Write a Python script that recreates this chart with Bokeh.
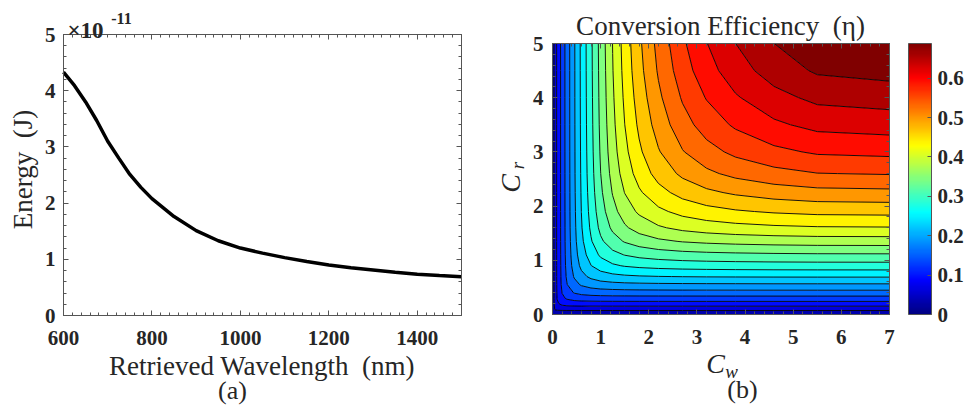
import numpy as np
from bokeh.plotting import figure
from bokeh.layouts import row
from bokeh.models import (LinearAxis, Range1d, FixedTicker, SingleIntervalTicker,
                          Label, ColorBar, LinearColorMapper, CustomJSTickFormatter)
from bokeh.embed import file_html
from bokeh.resources import INLINE

# ---------------- data: panel (a) ----------------
wavelength_nm = [600, 625, 650, 675, 700, 725, 750, 775, 800, 850, 900, 950, 1000,
                 1050, 1100, 1150, 1200, 1250, 1300, 1350, 1400, 1450, 1500]
energy_e11 = [4.33, 4.09, 3.80, 3.47, 3.10, 2.80, 2.51, 2.28, 2.08, 1.76, 1.51, 1.33, 1.20,
              1.11, 1.03, 0.96, 0.90, 0.85, 0.81, 0.77, 0.735, 0.71, 0.69]
a_xlim = (600, 1500)
a_ylim = (0, 5)

# ---------------- data: panel (b) ----------------
cw = [0, 0.05, 0.1, 0.2, 0.3, 0.45, 0.6, 0.8, 1.0, 1.25, 1.5, 1.8, 2.2, 2.7, 3.2, 3.8, 4.6, 5.5, 7]
cr = [0, 0.05, 0.1, 0.2, 0.3, 0.4, 0.55, 0.7, 0.9, 1.1, 1.35, 1.6, 1.9, 2.25, 2.6, 3.0, 3.5, 4.0, 4.5, 5]
eta_r00 = [0] * 19
eta_r01 = [0, 0.0206, 0.0210, 0.0211, 0.0212, 0.0212, 0.0212, 0.0212, 0.0212, 0.0212, 0.0212, 0.0212, 0.0212, 0.0212, 0.0212, 0.0212, 0.0212, 0.0212, 0.0212]
eta_r02 = [0, 0.0350, 0.0395, 0.0414, 0.0419, 0.0421, 0.0422, 0.0422, 0.0423, 0.0423, 0.0423, 0.0423, 0.0423, 0.0423, 0.0423, 0.0423, 0.0423, 0.0423, 0.0423]
eta_r03 = [0, 0.0436, 0.0585, 0.0711, 0.0757, 0.0781, 0.0791, 0.0796, 0.0798, 0.0800, 0.0801, 0.0801, 0.0802, 0.0802, 0.0802, 0.0802, 0.0802, 0.0802, 0.0802]
eta_r04 = [0, 0.0452, 0.0645, 0.0867, 0.0980, 0.1055, 0.1087, 0.1106, 0.1115, 0.1120, 0.1123, 0.1125, 0.1126, 0.1127, 0.1128, 0.1128, 0.1129, 0.1129, 0.1129]
eta_r05 = [0, 0.0457, 0.0667, 0.0947, 0.1124, 0.1264, 0.1333, 0.1378, 0.1401, 0.1414, 0.1421, 0.1426, 0.1429, 0.1432, 0.1433, 0.1434, 0.1435, 0.1435, 0.1436]
eta_r06 = [0, 0.0460, 0.0678, 0.0999, 0.1237, 0.1463, 0.1596, 0.1692, 0.1745, 0.1779, 0.1797, 0.1809, 0.1818, 0.1824, 0.1828, 0.1830, 0.1833, 0.1834, 0.1835]
eta_r07 = [0, 0.0461, 0.0684, 0.1023, 0.1297, 0.1588, 0.1785, 0.1942, 0.2039, 0.2102, 0.2138, 0.2163, 0.2182, 0.2195, 0.2203, 0.2208, 0.2212, 0.2214, 0.2216]
eta_r08 = [0, 0.0461, 0.0686, 0.1038, 0.1338, 0.1684, 0.1946, 0.2181, 0.2341, 0.2456, 0.2524, 0.2572, 0.2610, 0.2639, 0.2655, 0.2667, 0.2676, 0.2682, 0.2684]
eta_r09 = [0, 0.0461, 0.0688, 0.1045, 0.1357, 0.1734, 0.2040, 0.2333, 0.2551, 0.2719, 0.2823, 0.2900, 0.2962, 0.3009, 0.3037, 0.3057, 0.3074, 0.3084, 0.3087]
eta_r10 = [0, 0.0461, 0.0689, 0.1050, 0.1372, 0.1773, 0.2117, 0.2472, 0.2757, 0.2995, 0.3152, 0.3274, 0.3378, 0.3458, 0.3505, 0.3541, 0.3571, 0.3591, 0.3597]
eta_r11 = [0, 0.0461, 0.0689, 0.1053, 0.1379, 0.1795, 0.2162, 0.2557, 0.2893, 0.3188, 0.3395, 0.3564, 0.3712, 0.3830, 0.3903, 0.3959, 0.4006, 0.4036, 0.4046]
eta_r12 = [0, 0.0461, 0.0689, 0.1055, 0.1384, 0.1809, 0.2191, 0.2616, 0.2990, 0.3337, 0.3589, 0.3804, 0.3998, 0.4161, 0.4264, 0.4344, 0.4413, 0.4459, 0.4473]
eta_r13 = [0, 0.0461, 0.0689, 0.1056, 0.1387, 0.1819, 0.2213, 0.2661, 0.3069, 0.3460, 0.3759, 0.4022, 0.4272, 0.4486, 0.4627, 0.4739, 0.4838, 0.4903, 0.4925]
eta_r14 = [0, 0.0461, 0.0689, 0.1057, 0.1389, 0.1826, 0.2228, 0.2692, 0.3124, 0.3551, 0.3887, 0.4191, 0.4492, 0.4757, 0.4938, 0.5086, 0.5216, 0.5308, 0.5337]
eta_r15 = [0, 0.0461, 0.0689, 0.1057, 0.1391, 0.1830, 0.2238, 0.2713, 0.3163, 0.3618, 0.3982, 0.4323, 0.4666, 0.4985, 0.5203, 0.5388, 0.5552, 0.5671, 0.5709]
eta_r16 = [0, 0.0461, 0.0689, 0.1057, 0.1392, 0.1834, 0.2245, 0.2730, 0.3195, 0.3672, 0.4063, 0.4438, 0.4824, 0.5192, 0.5453, 0.5676, 0.5884, 0.6032, 0.6082]
eta_r17 = [0, 0.0462, 0.0690, 0.1057, 0.1393, 0.1836, 0.2251, 0.2741, 0.3216, 0.3709, 0.4121, 0.4520, 0.4941, 0.5348, 0.5647, 0.5907, 0.6152, 0.6331, 0.6391]
eta_r18 = [0, 0.0462, 0.0690, 0.1057, 0.1393, 0.1837, 0.2254, 0.2750, 0.3231, 0.3740, 0.4168, 0.4589, 0.5038, 0.5485, 0.5817, 0.6114, 0.6397, 0.6609, 0.6680]
eta_r19 = [0, 0.0462, 0.0690, 0.1058, 0.1394, 0.1839, 0.2257, 0.2756, 0.3244, 0.3759, 0.4197, 0.4631, 0.5101, 0.5574, 0.5931, 0.6252, 0.6565, 0.6800, 0.6878]
eta_rows = [eta_r00, eta_r01, eta_r02, eta_r03, eta_r04, eta_r05, eta_r06, eta_r07, eta_r08, eta_r09,
            eta_r10, eta_r11, eta_r12, eta_r13, eta_r14, eta_r15, eta_r16, eta_r17, eta_r18, eta_r19]
contour_levels = [0.0313, 0.0625, 0.0938, 0.1251, 0.1564, 0.1876, 0.2189, 0.2502, 0.2814, 0.3127,
                  0.3440, 0.3752, 0.4065, 0.4378, 0.4691, 0.5003, 0.5316, 0.5629, 0.5941, 0.6254, 0.6567]
eta_max = 0.688
b_xlim = (0, 7)
b_ylim = (0, 5)
cb_ticks = [0, 0.1, 0.2, 0.3, 0.4, 0.5, 0.6]

# ---------------- style ----------------
FONT = "Liberation Serif"
AXC = "#555555"
TXT = "#262626"
EMPTY = CustomJSTickFormatter(code="return ''")


def jet(x):
    r = min(max(1.5 - abs(4 * x - 3), 0), 1)
    g = min(max(1.5 - abs(4 * x - 2), 0), 1)
    b = min(max(1.5 - abs(4 * x - 1), 0), 1)
    return "#%02x%02x%02x" % (round(r * 255), round(g * 255), round(b * 255))


def style_axis(ax, show_labels=True, standoff=8):
    ax.axis_line_color = AXC
    ax.axis_line_width = 1
    ax.major_tick_line_color = AXC
    ax.minor_tick_line_color = AXC
    ax.major_tick_in = 5
    ax.major_tick_out = 0
    ax.minor_tick_in = 3
    ax.minor_tick_out = 0
    ax.major_label_text_font = FONT
    ax.major_label_text_font_style = "bold"
    ax.major_label_text_color = TXT
    ax.major_label_text_font_size = "21px"
    ax.major_label_standoff = standoff
    if not show_labels:
        ax.formatter = EMPTY


def txt(x, y, s, size="27px", style="normal", angle=0, align="center", baseline="middle"):
    return Label(x=x, y=y, text=s, text_font=FONT, text_font_style=style, text_font_size=size,
                 text_color=TXT, text_align=align, text_baseline=baseline, angle=angle)


def boxed(p, xlim, ylim, xtick, ytick, xstand, ystand):
    p.xaxis.ticker = xtick
    p.yaxis.ticker = ytick
    p.xaxis.fixed_location = ylim[0]
    p.yaxis.fixed_location = xlim[0]
    p.xaxis.bounds = xlim
    p.yaxis.bounds = ylim
    style_axis(p.xaxis[0], True, xstand)
    style_axis(p.yaxis[0], True, ystand)
    top = LinearAxis(ticker=xtick, fixed_location=ylim[1], bounds=xlim)
    right = LinearAxis(ticker=ytick, fixed_location=xlim[1], bounds=ylim)
    style_axis(top, False)
    style_axis(right, False)
    p.add_layout(top, "above")
    p.add_layout(right, "right")


# ---------------- panel (a) ----------------
fa = figure(width=480, height=406, x_range=Range1d(457.54, 1542.97), y_range=Range1d(-1.6192, 5.605),
            output_backend="svg", toolbar_location=None, title=None,
            min_border_left=0, min_border_right=0, min_border_top=0, min_border_bottom=0)
fa.outline_line_color = None
fa.grid.visible = False
fa.line(wavelength_nm, energy_e11, line_width=3.5, line_color="black")
boxed(fa, a_xlim, a_ylim,
      SingleIntervalTicker(interval=200, num_minor_ticks=10),
      SingleIntervalTicker(interval=1, num_minor_ticks=5), 15, 8)

fa.add_layout(txt(509.5, 2.598, "Energy\u2002(J)", angle=np.pi / 2))
fa.add_layout(txt(1048.9, -0.907, "Retrieved Wavelength\u2002(nm)"))
fa.add_layout(txt(982.2, -1.335, "(a)", size="26px"))
fa.add_layout(txt(609, 5.071, "\u00d710", size="23px", style="bold", align="left", baseline="alphabetic"))
fa.add_layout(txt(708, 5.285, "-11", size="16px", style="bold", align="left", baseline="alphabetic"))

# ---------------- panel (b) ----------------
fb = figure(width=488, height=406, x_range=Range1d(-1.4955, 8.641), y_range=Range1d(-1.6974, 5.7934),
            output_backend="svg", toolbar_location=None, title=None,
            min_border_left=0, min_border_right=0, min_border_top=0, min_border_bottom=0)
fb.outline_line_color = None
fb.grid.visible = False

levels_all = [-0.001] + contour_levels + [0.69]
fill_cols = [jet((k + 1) / (len(levels_all) - 1)) for k in range(len(levels_all) - 1)]
fb.contour(x=cw, y=cr, z=np.array(eta_rows), levels=levels_all,
           fill_color=fill_cols, line_color="black", line_width=0.9)
boxed(fb, b_xlim, b_ylim,
      SingleIntervalTicker(interval=1, num_minor_ticks=5),
      SingleIntervalTicker(interval=1, num_minor_ticks=5), 15, 9)

mapper = LinearColorMapper(palette=[jet(i / 255) for i in range(256)], low=0, high=eta_max)
cb = ColorBar(color_mapper=mapper, ticker=FixedTicker(ticks=cb_ticks), width=23, height=271,
              location=(428, 92), margin=0, padding=0, label_standoff=6,
              major_label_text_font=FONT, major_label_text_font_style="bold",
              major_label_text_font_size="21px", major_label_text_color=TXT,
              major_tick_line_color=AXC, major_tick_in=4, major_tick_out=0,
              minor_tick_line_color=None,
              bar_line_color=AXC, border_line_color=None, background_fill_alpha=0)
fb.add_layout(cb)

fb.add_layout(txt(3.49, 5.332, "Conversion Efficiency\u2002(\u03b7)"))
fb.add_layout(txt(3.386, -0.904, "C", size="28px", style="italic"))
fb.add_layout(txt(3.718, -1.052, "w", size="19px", style="italic"))
fb.add_layout(txt(-0.872, 2.417, "C", size="28px", style="italic", angle=np.pi / 2))
fb.add_layout(txt(-0.727, 2.749, "r", size="19px", style="italic", angle=np.pi / 2))
fb.add_layout(txt(3.947, -1.380, "(b)", size="26px"))

layout = row(fa, fb)
open("out.html", "w").write(file_html(layout, INLINE))
